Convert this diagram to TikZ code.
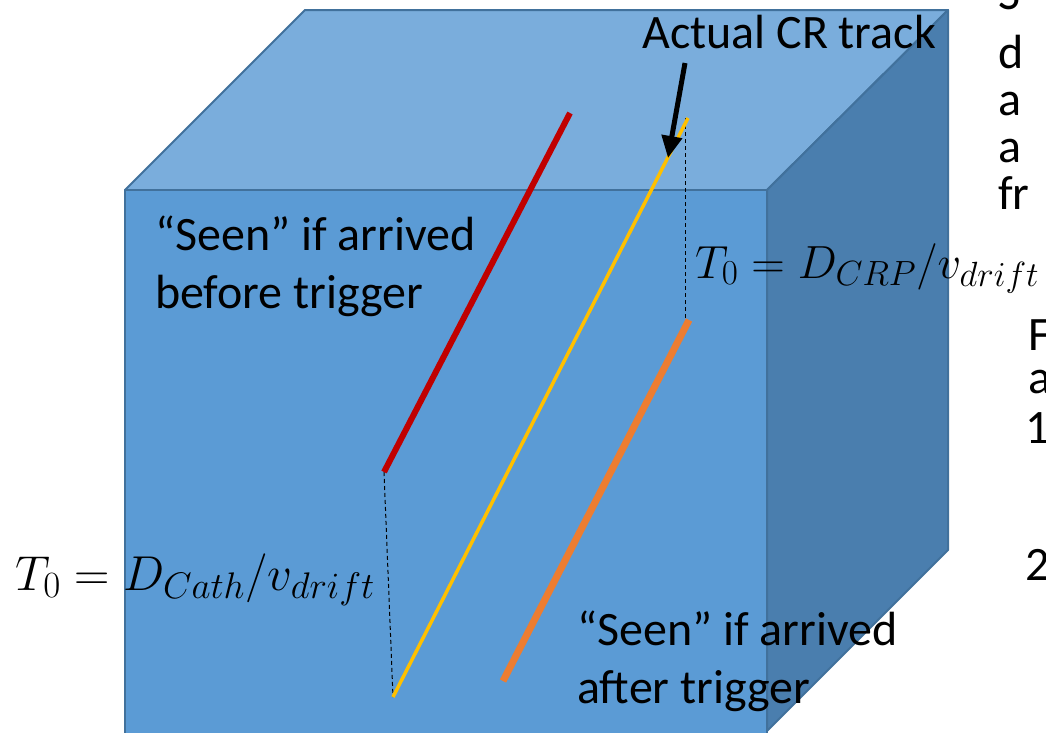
\documentclass[tikz,border=0pt]{standalone}
\usepackage{fix-cm}
\usepackage{fontspec}
\setmainfont{Carlito}
\usetikzlibrary{arrows.meta}
\DeclareMathSizes{49}{49}{37}{29}
\DeclareMathSizes{46.5}{46.5}{35}{27.5}
\definecolor{frontc}{HTML}{5B9BD5}
\definecolor{topc}{HTML}{7AADDC}
\definecolor{sidec}{HTML}{4A7EAE}
\definecolor{edgec}{HTML}{41719C}
\definecolor{redc}{HTML}{C00000}
\definecolor{yellowc}{HTML}{FFC000}
\definecolor{orangec}{HTML}{ED7D31}
\begin{document}
\begin{tikzpicture}[x=1pt,y=-1pt,
  face/.style={draw=edgec,line width=2pt,line join=round},
  lbl/.style={font=\fontsize{48}{58}\selectfont,inner sep=0pt,anchor=base west},
  mlbl/.style={font=\fontsize{49}{59}\selectfont,inner sep=0pt,anchor=base west},
  mlbls/.style={font=\fontsize{46.5}{56}\selectfont,inner sep=0pt,anchor=base west},
  track/.style={line cap=butt},
  guide/.style={black,line width=1pt,dash pattern=on 4pt off 3pt}]
\useasboundingbox (0,0) rectangle (1046,732);
\clip (0,0) rectangle (1046,732);
\fill[white] (0,0) rectangle (1046,732);
% cube
\draw[face,fill=topc] (125,190) -- (305,10) -- (948,10) -- (767,190) -- cycle;
\draw[face,fill=sidec] (767,190) -- (948,10) -- (948,550) -- (767,731) -- cycle;
\draw[face,fill=frontc] (125,190) rectangle (767,760);
% track end points
\coordinate (r1) at (384,472);
\coordinate (r2) at (570,113);
\coordinate (y1) at (393,697);
\coordinate (y2) at (688,118);
\coordinate (o1) at (503,681);
\coordinate (o2) at (689,320);
\coordinate (d1) at (685,118);
\coordinate (d2) at (685,318);
% guides
\draw[guide] (r1) -- (y1);
\draw[guide] (d1) -- (d2);
% tracks
\draw[track,redc,line width=6pt] (r1) -- (r2);
\draw[track,yellowc,line width=3.5pt] (y1) -- (y2);
\draw[track,orangec,line width=7pt] (o1) -- (o2);
% labels
\node[lbl] (act) at (642,48) {Actual CR track};
\coordinate (a0) at (685,63);
\coordinate (a1) at (668,158);
\draw[black,line width=5pt,-{Triangle[length=22pt,width=20pt]}] (a0) -- (a1);
\node[lbl] (s1a) at (155,250) {“Seen” if arrived};
\node[lbl] (s1b) at (155,308) {before trigger};
\node[lbl] (s2a) at (577,645) {“Seen” if arrived};
\node[lbl] (s2b) at (577,703) {after trigger};
\node[mlbls] (tcrp) at (695,278) {$T_0 = D_{CRP}/v_{drift}$};
\node[mlbl] (tcath) at (15,590) {$T_0 = D_{Cath}/v_{drift}$};
% cut-off text at right edge
\node[lbl] (c0) at (998,9) {S};
\node[lbl] (c1) at (998,68) {d};
\node[lbl] (c2) at (998,115) {a};
\node[lbl] (c3) at (998,162) {a};
\node[lbl] (c4) at (998,209) {fr};
\node[lbl] (c5) at (1028,350) {F};
\node[lbl] (c6) at (1028,393) {a};
\node[lbl] (c7) at (1025,443) {1};
\node[lbl] (c8) at (1025,580) {2};
\end{tikzpicture}
\end{document}
